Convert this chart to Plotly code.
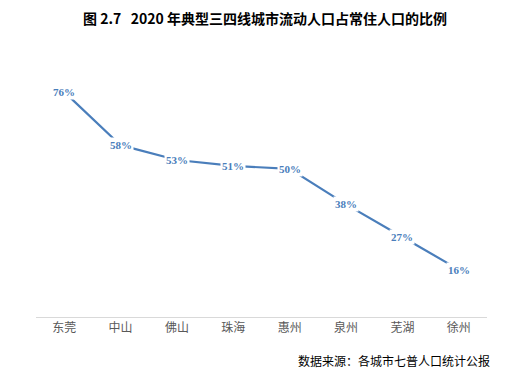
import plotly.graph_objects as go

cities = ["东莞", "中山", "佛山", "珠海", "惠州", "泉州", "芜湖", "徐州"]
shares = [0.76, 0.58, 0.53, 0.51, 0.50, 0.38, 0.27, 0.16]
share_labels = ["76%", "58%", "53%", "51%", "50%", "38%", "27%", "16%"]

title_text = "图 2.7   2020 年典型三四线城市流动人口占常住人口的比例"
source_text = "数据来源：各城市七普人口统计公报"

BLUE = "#4a7ebb"

fig = go.Figure()
fig.add_trace(go.Scatter(
    x=cities, y=shares, mode="lines",
    line=dict(color=BLUE, width=2.2),
    hoverinfo="skip", showlegend=False,
))

for c, v, t in zip(cities, shares, share_labels):
    fig.add_annotation(
        x=c, y=v, text=t, showarrow=False,
        bgcolor="white", borderpad=1,
        font=dict(family="Liberation Serif", size=11, color=BLUE, weight="bold"),
        xanchor="center", yanchor="middle",
    )

fig.add_annotation(
    x=0.5, y=1, xref="paper", yref="paper", xanchor="center", yanchor="top",
    text="<b>" + title_text + "</b>", showarrow=False, yshift=73, xshift=3,
    borderpad=0,
    font=dict(family="Noto Sans CJK SC", size=14, color="black"),
)
fig.add_annotation(
    x=1, y=0, xref="paper", yref="paper", xanchor="right", yanchor="middle",
    text=source_text, showarrow=False, yshift=-43, xshift=5,
    font=dict(family="Noto Sans CJK SC", size=12, color="black"),
)

fig.update_layout(
    width=524, height=373,
    margin=dict(l=28, r=45, t=72, b=64),
    paper_bgcolor="white", plot_bgcolor="white",
    xaxis=dict(
        showgrid=False, showline=True, linecolor="#d9d9d9", linewidth=1,
        ticks="", tickfont=dict(family="Noto Sans CJK SC", size=12, color="#595959"),
        range=[-0.5, 7.5], fixedrange=True,
    ),
    yaxis=dict(
        range=[0, 0.8], showgrid=False, showline=False, zeroline=False,
        showticklabels=False, fixedrange=True,
    ),
)

fig.write_html("out.html")
